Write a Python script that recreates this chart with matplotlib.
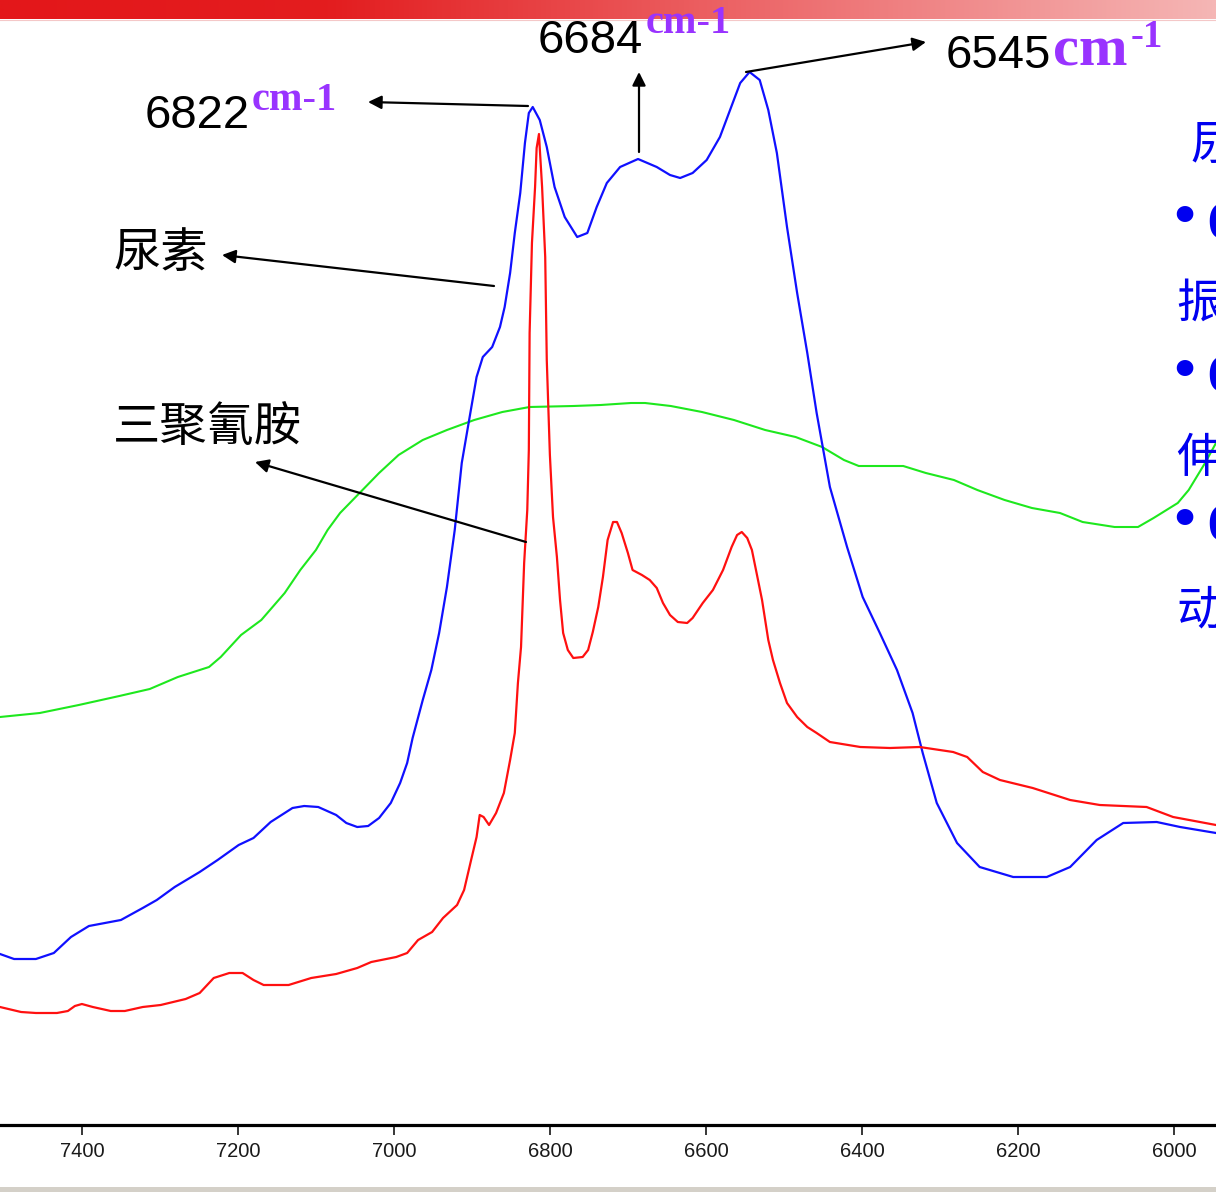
import matplotlib
matplotlib.use("Agg")
import matplotlib.pyplot as plt
import numpy as np
from matplotlib.colors import LinearSegmentedColormap

# ---------------- data ----------------
# 尿素 (urea) spectrum, blue
urea_wn = [7505, 7487, 7459, 7436, 7414, 7391, 7350, 7322, 7304, 7281,
           7249, 7226, 7199, 7180, 7158, 7130, 7115, 7097, 7074, 7061,
           7047, 7033, 7019, 7004, 6992, 6983, 6976, 6963, 6952, 6942,
           6932, 6922, 6913, 6902, 6894, 6886, 6874, 6864, 6858, 6851,
           6845, 6838, 6832, 6827, 6822, 6813, 6804, 6794, 6781, 6765,
           6752, 6740, 6727, 6710, 6687, 6663, 6646, 6633, 6617, 6599,
           6582, 6569, 6556, 6544, 6531, 6520, 6509, 6496, 6483, 6470,
           6458, 6441, 6419, 6399, 6377, 6355, 6335, 6322, 6304, 6278,
           6249, 6206, 6163, 6133, 6099, 6065, 6022, 5992, 5946]
urea_abs = [0.171, 0.166, 0.166, 0.172, 0.188, 0.199, 0.205, 0.217, 0.225, 0.238,
            0.253, 0.265, 0.280, 0.287, 0.303, 0.317, 0.319, 0.318, 0.310, 0.302,
            0.298, 0.299, 0.307, 0.322, 0.342, 0.362, 0.387, 0.425, 0.455, 0.492,
            0.538, 0.595, 0.662, 0.712, 0.748, 0.768, 0.778, 0.798, 0.818, 0.852,
            0.892, 0.932, 0.982, 1.012, 1.018, 1.005, 0.978, 0.938, 0.908, 0.888,
            0.892, 0.918, 0.942, 0.958, 0.966, 0.958, 0.950, 0.947, 0.952, 0.965,
            0.988, 1.015, 1.042, 1.053, 1.045, 1.015, 0.972, 0.898, 0.832, 0.772,
            0.712, 0.638, 0.578, 0.528, 0.492, 0.455, 0.412, 0.372, 0.322, 0.282,
            0.258, 0.248, 0.248, 0.258, 0.285, 0.302, 0.303, 0.298, 0.292]

# 三聚氰胺 (melamine) spectrum, red
mel_wn = [7505, 7478, 7459, 7432, 7418, 7409, 7400, 7386, 7363, 7345,
          7322, 7299, 7267, 7249, 7231, 7211, 7194, 7180, 7167, 7135,
          7106, 7074, 7047, 7029, 6997, 6983, 6969, 6951, 6937, 6919,
          6910, 6901, 6894, 6890, 6885, 6878, 6869, 6859, 6851, 6845,
          6841, 6837, 6833, 6829, 6827, 6826, 6823, 6819, 6817, 6814,
          6813, 6810, 6806, 6804, 6800, 6796, 6791, 6787, 6783, 6777,
          6770, 6758, 6751, 6745, 6738, 6732, 6726, 6719, 6714, 6708,
          6700, 6694, 6682, 6672, 6663, 6655, 6646, 6636, 6624, 6617,
          6604, 6591, 6578, 6567, 6560, 6554, 6547, 6541, 6535, 6528,
          6520, 6514, 6505, 6496, 6483, 6470, 6458, 6441, 6402, 6364,
          6326, 6283, 6265, 6245, 6223, 6181, 6133, 6095, 6035, 6001,
          5946]
mel_abs = [0.118, 0.113, 0.112, 0.112, 0.114, 0.119, 0.121, 0.118, 0.114, 0.114,
           0.118, 0.120, 0.126, 0.132, 0.147, 0.152, 0.152, 0.145, 0.140, 0.140,
           0.147, 0.151, 0.157, 0.163, 0.168, 0.172, 0.185, 0.193, 0.207, 0.220,
           0.235, 0.265, 0.288, 0.310, 0.308, 0.300, 0.312, 0.332, 0.365, 0.392,
           0.442, 0.478, 0.562, 0.615, 0.675, 0.792, 0.882, 0.938, 0.977, 0.991,
           0.977, 0.938, 0.868, 0.765, 0.670, 0.608, 0.568, 0.525, 0.492, 0.475,
           0.467, 0.468, 0.475, 0.493, 0.518, 0.548, 0.585, 0.603, 0.603, 0.592,
           0.572, 0.555, 0.550, 0.545, 0.537, 0.522, 0.510, 0.503, 0.502, 0.507,
           0.522, 0.535, 0.555, 0.578, 0.590, 0.593, 0.587, 0.575, 0.552, 0.525,
           0.485, 0.465, 0.442, 0.422, 0.408, 0.398, 0.392, 0.383, 0.378, 0.377,
           0.378, 0.373, 0.368, 0.353, 0.345, 0.337, 0.325, 0.320, 0.318, 0.308,
           0.300]

# third sample, green
mix_wn = [7505, 7454, 7404, 7352, 7313, 7277, 7237, 7222, 7196, 7170,
          7140, 7120, 7100, 7085, 7069, 7049, 7019, 6994, 6963, 6932,
          6897, 6861, 6826, 6770, 6735, 6696, 6678, 6645, 6605, 6564,
          6524, 6485, 6451, 6423, 6404, 6347, 6318, 6282, 6252, 6217,
          6182, 6146, 6117, 6076, 6046, 6026, 5995, 5981, 5960, 5946]
mix_abs = [0.408, 0.412, 0.420, 0.429, 0.436, 0.448, 0.458, 0.468, 0.490, 0.505,
           0.532, 0.555, 0.575, 0.595, 0.612, 0.628, 0.652, 0.670, 0.685, 0.695,
           0.705, 0.713, 0.718, 0.719, 0.720, 0.722, 0.722, 0.719, 0.713, 0.705,
           0.695, 0.688, 0.678, 0.665, 0.659, 0.659, 0.652, 0.645, 0.635, 0.625,
           0.617, 0.612, 0.603, 0.598, 0.598, 0.607, 0.622, 0.635, 0.662, 0.682]

tick_values = [7400, 7200, 7000, 6800, 6600, 6400, 6200, 6000]

# ---------------- figure ----------------
W, H = 1216, 1192
fig = plt.figure(figsize=(W / 100, H / 100), dpi=100)
fig.patch.set_facecolor("white")


def px(x, y):
    """pixel position (from top-left) -> figure fraction"""
    return (x / W, 1 - y / H)


ax = fig.add_axes([0, 67 / H, 1, 1125 / H])
ax.plot(mix_wn, mix_abs, color="#1ee81e", lw=1.5, zorder=2)
ax.plot(urea_wn, urea_abs, color="#1010ff", lw=1.6, zorder=3)
ax.plot(mel_wn, mel_abs, color="#ff1010", lw=1.6, zorder=4)
ax.set_xlim(7505, 5946)
ax.set_ylim(0, 1.125)
for s in ("top", "left", "right"):
    ax.spines[s].set_visible(False)
ax.spines["bottom"].set_linewidth(2.3)
ax.spines["bottom"].set_color("black")
ax.set_yticks([])
ax.set_xticks(tick_values)
ax.set_xticklabels([str(t) for t in tick_values], fontsize=14.5,
                   family="Liberation Sans", color="#1a1a1a")
ax.tick_params(axis="x", direction="out", length=7.5, width=1.1,
               color="black", pad=5)

# ---------------- top gradient bar ----------------
bar = fig.add_axes([0, 1 - 19 / H, 1, 19 / H])
cmap = LinearSegmentedColormap.from_list(
    "hdr", [(0, "#e3171a"), (0.27, "#e31d1f"), (0.6, "#ec6365"), (1, "#f5b6b5")])
bar.imshow(np.linspace(0, 1, 512).reshape(1, -1), aspect="auto", cmap=cmap,
           extent=[0, 1, 0, 1])
bar.set_axis_off()
fig.add_artist(plt.Line2D([0, 1], [1 - 20 / H, 1 - 20 / H],
                          transform=fig.transFigure, color="#f4c8c8", lw=0.8))

# bottom grey strip
fig.add_artist(plt.Rectangle((0, 0), 1, 5 / H, transform=fig.transFigure,
                             color="#d4d0c8", lw=0))

# ---------------- annotations ----------------
purple = "#9933ff"
num_kw = dict(family="Liberation Sans", color="black", fontsize=34,
              va="baseline", ha="left")
cm_kw = dict(family="Liberation Serif", weight="bold", color=purple,
             va="baseline", ha="left")

fig.text(*px(145, 128), "6822", **num_kw)
fig.text(*px(252, 110), "cm-1", fontsize=29, **cm_kw)

fig.text(*px(538, 53), "6684", **num_kw)
fig.text(*px(646, 33), "cm-1", fontsize=29, **cm_kw)

fig.text(*px(946, 68), "6545", **num_kw)
fig.text(*px(1053, 66), "cm", fontsize=42, **cm_kw)
fig.text(*px(1131, 47), "-1", fontsize=28, **cm_kw)

cjk = ["Noto Sans CJK SC", "DejaVu Sans"]
fig.text(*px(113, 267), "尿素", family=cjk, fontsize=34, color="black",
         va="baseline", ha="left", weight="light")
fig.text(*px(113, 441), "三聚氰胺", family=cjk, fontsize=34, color="black",
         va="baseline", ha="left", weight="light")

arrow_kw = dict(arrowstyle="-|>", mutation_scale=20, lw=1.6, color="black",
                shrinkA=0, shrinkB=0)
arrows = [((528, 106), (368, 102)),
          ((639, 152), (639, 72)),
          ((746, 72), (926, 42)),
          ((494, 286), (222, 255)),
          ((526, 542), (255, 462))]
for start, tip in arrows:
    fig.add_artist(matplotlib.patches.FancyArrowPatch(
        px(*start), px(*tip), transform=fig.transFigure, **arrow_kw))

# right-side blue bullet text (cut off by the slide edge, as in the source)
blue = "#0000f0"
side_chars = [("尿", 1190, 160), ("振", 1176, 318), ("伸", 1176, 472), ("动", 1176, 624)]
for ch, x, y in side_chars:
    fig.text(*px(x, y), ch, family=cjk, fontsize=34, color=blue,
             va="baseline", ha="left", weight="light")
for yb in (219, 372, 522):
    fig.text(*px(1184, yb), "•", family="DejaVu Sans", fontsize=34,
             color=blue, va="center", ha="center", weight="bold")
    fig.text(*px(1207, yb + 18), "6", family="Liberation Serif", fontsize=38,
             color=blue, va="baseline", ha="left", weight="bold")

fig.savefig("out.png", dpi=100)
